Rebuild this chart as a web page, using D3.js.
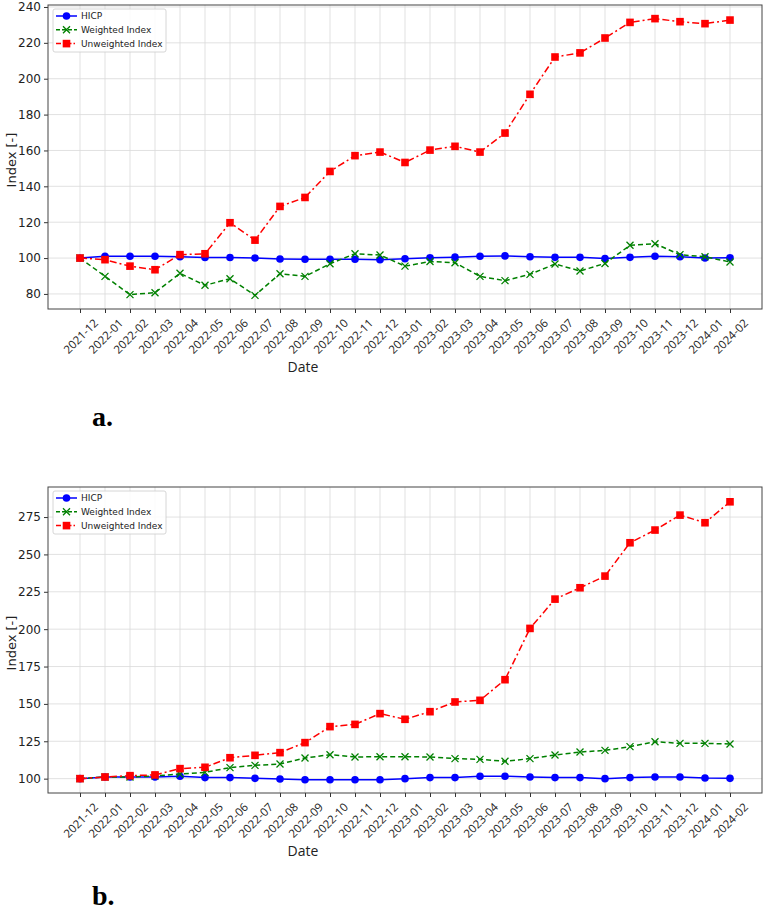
<!DOCTYPE html>
<html>
<head>
<meta charset="utf-8">
<script src="https://cdn.jsdelivr.net/npm/d3@7"></script>
<style>
  body { margin: 0; background: #fff; }
  svg { display: block; }
</style>
</head>
<body>
<svg id="chart" width="767" height="914"></svg>
<script>
// months on the x axis
const dates = ["2021-12","2022-01","2022-02","2022-03","2022-04","2022-05","2022-06","2022-07","2022-08","2022-09","2022-10","2022-11","2022-12",
  "2023-01","2023-02","2023-03","2023-04","2023-05","2023-06","2023-07","2023-08","2023-09","2023-10","2023-11","2023-12","2024-01","2024-02"];

// panel a
const hicpA = [100,101,101,101,100.8,100.3,100.3,100,99.5,99.3,99.3,99.3,99.1,99.6,100.2,100.5,101,101.2,100.7,100.4,100.4,99.7,100.4,101,100.7,100,100.2];
const weightedA = [100,89.8,79.6,80.7,91.5,84.8,88.5,79.2,91.3,89.8,96.8,102.4,101.7,95.5,98.1,97.4,89.8,87.4,90.9,96.7,92.8,97,107.1,108,101.9,100.7,97.8];
const unweightedA = [100,99.1,95.5,93.5,101.9,102.4,119.7,110,128.8,133.8,148.3,157.1,159.1,153.3,160.2,162.3,159.1,169.7,191.3,212.1,214.4,222.7,231.4,233.5,231.8,230.7,232.7];
const ticksA = [80,100,120,140,160,180,200,220,240];

// panel b
const hicpB = [100,101.1,101.1,101.1,101.6,100.7,100.7,100.2,99.8,99.3,99.3,99.3,99.3,100,100.7,100.7,101.6,101.6,101.1,100.7,100.7,100,100.7,101.1,101.1,100.4,100.2];
const weightedB = [100,101.1,101.1,101.8,103.1,104.2,107.4,108.9,109.8,113.8,116,114.5,114.7,114.7,114.5,113.4,112.9,111.6,113.4,115.8,117.8,118.9,121.4,124.7,123.6,123.6,123.2];
const unweightedB = [100,101.1,102,102.5,106.7,107.6,114,115.6,117.4,124.1,134.8,136.3,143.5,139.7,144.8,151.3,152.4,166.2,200.5,220.1,227.7,235.5,257.8,266.3,276.3,271.2,285.2];
const ticksB = [100,125,150,175,200,225,250,275];

const seriesNames = ["HICP", "Weighted Index", "Unweighted Index"];

const svg = d3.select("#chart");

function drawPanel(opts) {
  const { top, bottom, yDomain, ticks, series, tag, tagY } = opts;
  const left = 48, right = 762;
  const g = svg.append("g");

  const x = d3.scalePoint().domain(dates).range([80, 730]);
  const y = d3.scaleLinear().domain(yDomain).range([bottom, top]);

  // grid
  g.append("g").selectAll("line").data(dates).join("line")
    .attr("x1", d => x(d)).attr("x2", d => x(d))
    .attr("y1", top).attr("y2", bottom)
    .attr("stroke", "#d9d9d9").attr("stroke-width", 0.8);
  g.append("g").selectAll("line").data(ticks).join("line")
    .attr("x1", left).attr("x2", right)
    .attr("y1", d => y(d)).attr("y2", d => y(d))
    .attr("stroke", "#d9d9d9").attr("stroke-width", 0.8);

  // axes
  const xAxis = g.append("g")
    .attr("transform", `translate(0,${bottom})`)
    .call(d3.axisBottom(x).tickSize(4).tickSizeOuter(0));
  xAxis.select(".domain").remove();
  xAxis.selectAll("line").attr("stroke", "#333");
  xAxis.selectAll("text")
    .attr("font-family", "'Open Sans', sans-serif")
    .attr("font-size", 11.5)
    .attr("fill", "#222")
    .attr("text-anchor", "middle")
    .attr("dominant-baseline", "central")
    .attr("y", 0).attr("dy", null)
    .attr("transform", "translate(0,27) rotate(-45)");

  const yAxis = g.append("g")
    .attr("transform", `translate(${left},0)`)
    .call(d3.axisLeft(y).tickValues(ticks).tickSize(4).tickPadding(3));
  yAxis.select(".domain").remove();
  yAxis.selectAll("line").attr("stroke", "#333");
  yAxis.selectAll("text")
    .attr("font-family", "'DejaVu Sans', sans-serif")
    .attr("font-size", 12)
    .attr("fill", "#222");

  // frame
  g.append("rect")
    .attr("x", left).attr("y", top)
    .attr("width", right - left).attr("height", bottom - top)
    .attr("fill", "none").attr("stroke", "#444").attr("stroke-width", 1);

  // series
  const styles = [
    { color: "#0000ff", dash: null, marker: "circle" },
    { color: "#008000", dash: "5,3", marker: "x" },
    { color: "#ff0000", dash: "7,3,2,3", marker: "square" }
  ];

  const line = d3.line().x((d, i) => x(dates[i])).y(d => y(d));

  series.forEach((vals, si) => {
    const st = styles[si];
    g.append("path")
      .datum(vals)
      .attr("d", line)
      .attr("fill", "none")
      .attr("stroke", st.color)
      .attr("stroke-width", 1.5)
      .attr("stroke-dasharray", st.dash);
    const pts = g.append("g").selectAll("g").data(vals).join("g")
      .attr("transform", (d, i) => `translate(${x(dates[i])},${y(d)})`);
    drawMarker(pts, st);
  });

  // legend
  const lg = g.append("g").attr("transform", `translate(53,${top + 4})`);
  lg.append("rect")
    .attr("width", 113).attr("height", 43).attr("rx", 2)
    .attr("fill", "#fff").attr("fill-opacity", 0.85)
    .attr("stroke", "#ccc").attr("stroke-width", 0.8);
  seriesNames.forEach((name, i) => {
    const st = styles[i];
    const row = lg.append("g").attr("transform", `translate(0,${7 + i * 13.8})`);
    row.append("line")
      .attr("x1", 3).attr("x2", 24)
      .attr("stroke", st.color).attr("stroke-width", 1.5)
      .attr("stroke-dasharray", st.dash ? (i === 1 ? "4,2" : "5,2,1.5,2") : null);
    drawMarker(row.append("g").attr("transform", "translate(13.5,0)"), st);
    row.append("text")
      .attr("x", 28).attr("y", 0)
      .attr("dominant-baseline", "central")
      .attr("font-family", "'DejaVu Sans', sans-serif")
      .attr("font-size", 9)
      .attr("fill", "#222")
      .text(name);
  });

  // axis titles
  g.append("text")
    .attr("x", 303).attr("y", bottom + 57)
    .attr("text-anchor", "middle")
    .attr("dominant-baseline", "central")
    .attr("font-family", "'Open Sans', sans-serif")
    .attr("font-size", 14).attr("fill", "#222")
    .text("Date");
  g.append("text")
    .attr("transform", `translate(11,${(top + bottom) / 2 + 3}) rotate(-90)`)
    .attr("text-anchor", "middle")
    .attr("dominant-baseline", "central")
    .attr("font-family", "'DejaVu Sans', sans-serif")
    .attr("font-size", 13).attr("fill", "#222")
    .text("Index [-]");

  // panel tag
  g.append("text")
    .attr("x", 92).attr("y", tagY)
    .attr("font-family", "'Liberation Serif', 'Times New Roman', serif")
    .attr("font-weight", "bold")
    .attr("font-size", 28).attr("fill", "#000")
    .text(tag);
}

function drawMarker(sel, st) {
  if (st.marker === "circle") {
    sel.append("circle").attr("r", 3.8).attr("fill", st.color);
  } else if (st.marker === "square") {
    sel.append("rect").attr("x", -3.8).attr("y", -3.8)
      .attr("width", 7.6).attr("height", 7.6).attr("fill", st.color);
  } else {
    sel.append("path").attr("d", "M-3.5,-3.5L3.5,3.5M-3.5,3.5L3.5,-3.5")
      .attr("stroke", st.color).attr("stroke-width", 1.3).attr("fill", "none");
  }
}

drawPanel({
  top: 5, bottom: 309, yDomain: [71.6, 241.1], ticks: ticksA,
  series: [hicpA, weightedA, unweightedA], tag: "a.", tagY: 426
});
drawPanel({
  top: 487, bottom: 793, yDomain: [90.4, 295.1], ticks: ticksB,
  series: [hicpB, weightedB, unweightedB], tag: "b.", tagY: 905
});
</script>
</body>
</html>
